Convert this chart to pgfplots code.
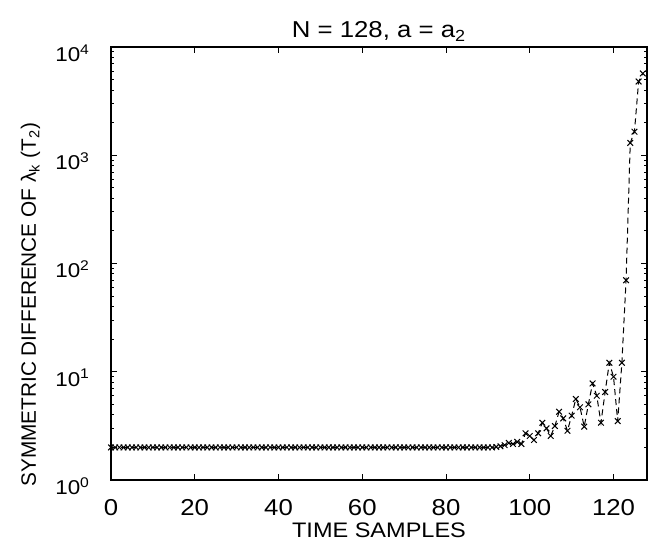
\documentclass[border=0pt]{standalone}
\usepackage{fontspec}
\setmainfont{Liberation Sans}[FakeStretch=1.12]
\newfontfamily\ylfont{Liberation Sans}
\usepackage{pgfplots}
\usetikzlibrary{calc}
\pgfplotsset{compat=1.18}
\begin{document}
\begin{tikzpicture}
\begin{axis}[
  name=ax,
  scale only axis,
  width=268pt, height=216.5pt,
  xmin=0, xmax=128,
  ymode=log, log basis y=10,
  ymin=1, ymax=10000,
  xtick={0,20,...,120},
  /pgf/number format/assume math mode=true,
  yticklabel={10\textsuperscript{\pgfmathprintnumber{\tick}}},
  tick align=inside,
  major tick length=3pt,
  minor tick length=1.6pt,
  axis line style={line width=0.7pt},
  every tick/.style={black, line width=0.5pt},
  title={N = 128, a = a\textsubscript{2}},
  title style={at={(axis description cs:0.5,1)}, anchor=base, yshift=-1.5pt, font=\fontsize{11.5}{13}\selectfont},
  xlabel={TIME SAMPLES},
  ylabel={\ylfont SYMMETRIC DIFFERENCE OF λ\textsubscript{k} (T\textsubscript{2})},
  ylabel style={at={(axis description cs:-0.15,0.405)}, anchor=center, font=\fontsize{10.4}{12}\selectfont},
  xlabel style={at={(axis description cs:0.5,0)}, anchor=base, yshift=-29pt, font=\fontsize{10.5}{12}\selectfont},
  xticklabel style={anchor=base, yshift=-18pt, font=\fontsize{11.5}{13}\selectfont},
  yticklabel style={xshift=-7pt, yshift=-3pt, font=\fontsize{10}{12}\selectfont},
]
\addplot[black, line width=0.5pt, dash pattern=on 3pt off 2pt, mark=x, mark size=2pt, mark options={solid, line width=0.5pt}] coordinates {
(0,2)(1,2)(2,2)(3,2)(4,2)(5,2)(6,2)(7,2)(8,2)(9,2)
(10,2)(11,2)(12,2)(13,2)(14,2)(15,2)(16,2)(17,2)(18,2)(19,2)
(20,2)(21,2)(22,2)(23,2)(24,2)(25,2)(26,2)(27,2)(28,2)(29,2)
(30,2)(31,2)(32,2)(33,2)(34,2)(35,2)(36,2)(37,2)(38,2)(39,2)
(40,2)(41,2)(42,2)(43,2)(44,2)(45,2)(46,2)(47,2)(48,2)(49,2)
(50,2)(51,2)(52,2)(53,2)(54,2)(55,2)(56,2)(57,2)(58,2)(59,2)
(60,2)(61,2)(62,2)(63,2)(64,2)(65,2)(66,2)(67,2)(68,2)(69,2)
(70,2)(71,2)(72,2)(73,2)(74,2)(75,2)(76,2)(77,2)(78,2)(79,2)
(80,2)(81,2)(82,2)(83,2)(84,2)(85,2)(86,2)(87,2)(88,2)(89,2)
(90,2)(91,2)(92,2.02)(93,2.05)(94,2.1)(95,2.2)(96,2.15)(97,2.25)(98,2.15)
(99,2.7)(100,2.55)(101,2.34)(102,2.7)(103,3.38)(104,3.0)(105,2.55)(106,3.15)
(107,4.27)(108,3.71)(109,2.85)(110,3.93)(111,5.6)(112,4.7)(113,3.11)(114,5.0)
(115,7.8)(116,6.0)(117,3.38)(118,6.5)(119,12.1)(120,9.0)(121,3.5)(122,12.1)
(123,70)(124,1300)(125,1650)(126,4800)(127,5700)
};
\end{axis}
\path ($(ax.south west)+(-55.5pt,-31.5pt)$) rectangle ($(ax.north east)+(1.5pt,23.5pt)$);
\end{tikzpicture}
\end{document}
